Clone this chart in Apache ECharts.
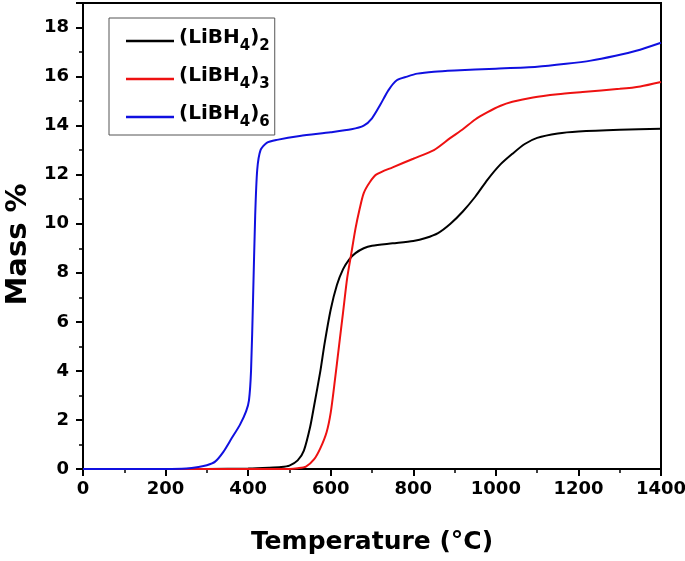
<!DOCTYPE html>
<html>
<head>
<meta charset="utf-8">
<script src="https://cdn.jsdelivr.net/npm/echarts@6/dist/echarts.min.js"></script>
<style>html,body{margin:0;padding:0;background:#fff;}#c{width:685px;height:561px;}</style>
</head>
<body>
<div id="c"></div>
<script>
var seriesNames = ['(LiBH4)2', '(LiBH4)3', '(LiBH4)6'];
var xTicks = [0, 200, 400, 600, 800, 1000, 1200, 1400];
var yTicks = [0, 2, 4, 6, 8, 10, 12, 14, 16, 18];

var tempLi2 = [0, 100, 200, 300, 400, 450, 480, 500, 520, 535, 550, 560, 575, 585, 600, 615, 630, 645, 660, 680, 700, 750, 800, 830, 860, 890, 920, 950, 980, 1010, 1040, 1070, 1100, 1150, 1200, 1300, 1400];
var massLi2 = [0, 0, 0, 0, 0.02, 0.05, 0.08, 0.14, 0.35, 0.75, 1.7, 2.6, 4.0, 5.1, 6.5, 7.5, 8.15, 8.55, 8.8, 9.0, 9.1, 9.2, 9.3, 9.42, 9.62, 10.0, 10.5, 11.1, 11.8, 12.4, 12.85, 13.25, 13.5, 13.68, 13.76, 13.83, 13.87];

var tempLi3 = [0, 100, 200, 300, 400, 500, 520, 540, 560, 575, 590, 600, 610, 620, 630, 640, 650, 660, 670, 680, 695, 710, 750, 800, 850, 890, 920, 950, 980, 1010, 1040, 1090, 1150, 1210, 1300, 1350, 1400];
var massLi3 = [0, 0, 0, 0, 0, 0, 0.03, 0.1, 0.4, 0.85, 1.5, 2.3, 3.6, 5.0, 6.4, 7.8, 8.8, 9.8, 10.6, 11.25, 11.7, 12.0, 12.3, 12.65, 13.0, 13.5, 13.85, 14.25, 14.55, 14.8, 14.97, 15.15, 15.28, 15.37, 15.5, 15.6, 15.78];

var tempLi6 = [0, 100, 200, 250, 280, 300, 320, 340, 360, 380, 395, 402, 407, 412, 417, 422, 430, 445, 470, 525, 600, 650, 680, 700, 720, 740, 760, 785, 810, 850, 900, 1000, 1100, 1170, 1230, 1290, 1340, 1400];
var massLi6 = [0, 0, 0, 0.02, 0.08, 0.15, 0.3, 0.7, 1.25, 1.8, 2.35, 2.8, 4.0, 7.0, 10.3, 12.2, 13.0, 13.3, 13.42, 13.58, 13.73, 13.85, 14.0, 14.3, 14.85, 15.45, 15.85, 16.0, 16.12, 16.2, 16.25, 16.32, 16.4, 16.52, 16.65, 16.85, 17.05, 17.38];

function pairs(xs, ys) { return xs.map(function (x, i) { return [x, ys[i]]; }); }

var colors = ['#000000', '#ee1111', '#1010e0'];
var FONT = 'DejaVu Sans, Liberation Sans, sans-serif';

var chart = echarts.init(document.getElementById('c'), null, {renderer: 'canvas'});
function mkSeries(name, xs, ys, color) {
  return {
    name: name, type: 'line', data: pairs(xs, ys), symbol: 'none', smooth: 0.25,
    lineStyle: {color: color, width: 2}, itemStyle: {color: color}, z: 3
  };
}
chart.setOption({
  animation: false,
  backgroundColor: '#ffffff',
  grid: {left: 83, right: 24, top: 3, bottom: 92, containLabel: false, outerBoundsMode: 'none',
    show: true, borderColor: '#000', borderWidth: 2, backgroundColor: 'transparent'},
  legend: {
    orient: 'vertical', left: 109, top: 18,
    padding: [10, 5, 5, 17], itemGap: 12,
    borderColor: '#555', borderWidth: 1,
    icon: 'rect', itemWidth: 48, itemHeight: 2.5,
    data: seriesNames,
    formatter: function (n) {
      var m = n.match(/^\(LiBH(\d)\)(\d)$/);
      return '{a|(LiBH}{s|' + m[1] + '}{a|)}{s|' + m[2] + '}';
    },
    textStyle: {
      fontFamily: FONT, fontWeight: 'bold', color: '#000',
      rich: {
        a: {fontFamily: FONT, fontWeight: 'bold', fontSize: 20, color: '#000', padding: [0, 0, 6, 0]},
        s: {fontFamily: FONT, fontWeight: 'bold', fontSize: 15, color: '#000', verticalAlign: 'bottom'}
      }
    }
  },
  xAxis: {
    type: 'value', min: xTicks[0], max: xTicks[xTicks.length - 1], interval: 200,
    name: 'Temperature (\u00B0C)', nameLocation: 'middle', nameGap: 61,
    nameTextStyle: {fontFamily: FONT, fontWeight: 'bold', fontSize: 25, color: '#000'},
    axisLine: {show: true, onZero: false, lineStyle: {color: '#000', width: 2}},
    axisTick: {show: true, inside: false, length: 7, lineStyle: {color: '#000', width: 2}},
    minorTick: {show: true, splitNumber: 2, length: 4, lineStyle: {color: '#000', width: 1.5}},
    splitLine: {show: false},
    axisLabel: {margin: 11, fontFamily: FONT, fontWeight: 'bold', fontSize: 18, color: '#000',
      formatter: function (v) { return xTicks.indexOf(v) >= 0 ? String(v) : ''; }}
  },
  yAxis: {
    type: 'value', min: 0, max: 19, interval: 2,
    name: 'Mass %', nameLocation: 'middle', nameGap: 50,
    nameTextStyle: {fontFamily: FONT, fontWeight: 'bold', fontSize: 29, color: '#000', padding: [0, 17, 0, 0]},
    axisLine: {show: true, onZero: false, lineStyle: {color: '#000', width: 2}},
    axisTick: {show: true, inside: false, length: 7, lineStyle: {color: '#000', width: 2}},
    minorTick: {show: true, splitNumber: 2, length: 4, lineStyle: {color: '#000', width: 1.5}},
    splitLine: {show: false},
    axisLabel: {margin: 14, fontFamily: FONT, fontWeight: 'bold', fontSize: 18, color: '#000',
      formatter: function (v) { return yTicks.indexOf(v) >= 0 ? String(v) : ''; }}
  },
  series: [
    mkSeries(seriesNames[0], tempLi2, massLi2, colors[0]),
    mkSeries(seriesNames[1], tempLi3, massLi3, colors[1]),
    mkSeries(seriesNames[2], tempLi6, massLi6, colors[2])
  ]
});
</script>
</body>
</html>
